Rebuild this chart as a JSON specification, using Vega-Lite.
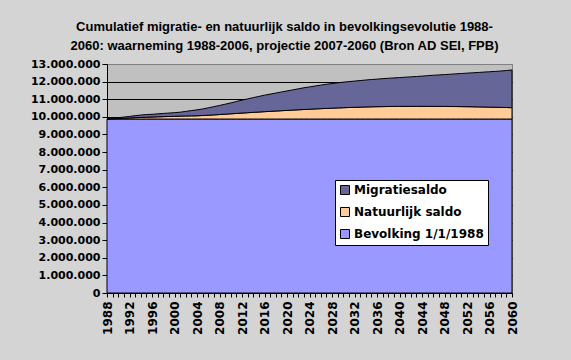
{
  "$schema": "https://vega.github.io/schema/vega-lite/v6.json",
  "width": 405,
  "height": 229,
  "autosize": {"type": "none"},
  "padding": {"left": 107, "top": 64, "right": 59, "bottom": 67},
  "background": "#D4D4D4",
  "title": {
    "text": ["Cumulatief migratie- en natuurlijk saldo in bevolkingsevolutie 1988-", "2060: waarneming 1988-2006, projectie 2007-2060 (Bron AD SEI, FPB)"],
    "font": "Liberation Sans",
    "fontSize": 13,
    "fontWeight": "bold",
    "color": "black",
    "anchor": "middle",
    "frame": "group",
    "baseline": "alphabetic",
    "lineHeight": 19,
    "offset": 18,
    "dy": 23,
    "dx": -25
  },
  "config": {
    "view": {"fill": "#C0C0C0", "stroke": "#808080", "strokeWidth": 1}
  },
  "data": {
    "values": [
      {"year": 1988, "Bevolking 1/1/1988": 9876000, "Natuurlijk saldo": 0, "Migratiesaldo": 0},
      {"year": 1989, "Bevolking 1/1/1988": 9876000, "Natuurlijk saldo": 13000, "Migratiesaldo": 39000},
      {"year": 1990, "Bevolking 1/1/1988": 9876000, "Natuurlijk saldo": 26000, "Migratiesaldo": 46000},
      {"year": 1991, "Bevolking 1/1/1988": 9876000, "Natuurlijk saldo": 42000, "Migratiesaldo": 69000},
      {"year": 1992, "Bevolking 1/1/1988": 9876000, "Natuurlijk saldo": 60000, "Migratiesaldo": 86000},
      {"year": 1993, "Bevolking 1/1/1988": 9876000, "Natuurlijk saldo": 77000, "Migratiesaldo": 115000},
      {"year": 1994, "Bevolking 1/1/1988": 9876000, "Natuurlijk saldo": 89000, "Migratiesaldo": 136000},
      {"year": 1995, "Bevolking 1/1/1988": 9876000, "Natuurlijk saldo": 101000, "Migratiesaldo": 154000},
      {"year": 1996, "Bevolking 1/1/1988": 9876000, "Natuurlijk saldo": 112000, "Migratiesaldo": 155000},
      {"year": 1997, "Bevolking 1/1/1988": 9876000, "Natuurlijk saldo": 124000, "Migratiesaldo": 170000},
      {"year": 1998, "Bevolking 1/1/1988": 9876000, "Natuurlijk saldo": 135000, "Migratiesaldo": 181000},
      {"year": 1999, "Bevolking 1/1/1988": 9876000, "Natuurlijk saldo": 145000, "Migratiesaldo": 193000},
      {"year": 2000, "Bevolking 1/1/1988": 9876000, "Natuurlijk saldo": 155000, "Migratiesaldo": 208000},
      {"year": 2001, "Bevolking 1/1/1988": 9876000, "Natuurlijk saldo": 165000, "Migratiesaldo": 222000},
      {"year": 2002, "Bevolking 1/1/1988": 9876000, "Natuurlijk saldo": 174000, "Migratiesaldo": 260000},
      {"year": 2003, "Bevolking 1/1/1988": 9876000, "Natuurlijk saldo": 180000, "Migratiesaldo": 300000},
      {"year": 2004, "Bevolking 1/1/1988": 9876000, "Natuurlijk saldo": 184000, "Migratiesaldo": 336000},
      {"year": 2005, "Bevolking 1/1/1988": 9876000, "Natuurlijk saldo": 199000, "Migratiesaldo": 371000},
      {"year": 2006, "Bevolking 1/1/1988": 9876000, "Natuurlijk saldo": 217000, "Migratiesaldo": 418000},
      {"year": 2007, "Bevolking 1/1/1988": 9876000, "Natuurlijk saldo": 235000, "Migratiesaldo": 469000},
      {"year": 2008, "Bevolking 1/1/1988": 9876000, "Natuurlijk saldo": 255000, "Migratiesaldo": 515000},
      {"year": 2009, "Bevolking 1/1/1988": 9876000, "Natuurlijk saldo": 276000, "Migratiesaldo": 566000},
      {"year": 2010, "Bevolking 1/1/1988": 9876000, "Natuurlijk saldo": 297000, "Migratiesaldo": 617000},
      {"year": 2011, "Bevolking 1/1/1988": 9876000, "Natuurlijk saldo": 318000, "Migratiesaldo": 676000},
      {"year": 2012, "Bevolking 1/1/1988": 9876000, "Natuurlijk saldo": 339000, "Migratiesaldo": 735000},
      {"year": 2013, "Bevolking 1/1/1988": 9876000, "Natuurlijk saldo": 359000, "Migratiesaldo": 785000},
      {"year": 2014, "Bevolking 1/1/1988": 9876000, "Natuurlijk saldo": 379000, "Migratiesaldo": 835000},
      {"year": 2015, "Bevolking 1/1/1988": 9876000, "Natuurlijk saldo": 398000, "Migratiesaldo": 886000},
      {"year": 2016, "Bevolking 1/1/1988": 9876000, "Natuurlijk saldo": 417000, "Migratiesaldo": 937000},
      {"year": 2017, "Bevolking 1/1/1988": 9876000, "Natuurlijk saldo": 436000, "Migratiesaldo": 978000},
      {"year": 2018, "Bevolking 1/1/1988": 9876000, "Natuurlijk saldo": 454000, "Migratiesaldo": 1020000},
      {"year": 2019, "Bevolking 1/1/1988": 9876000, "Natuurlijk saldo": 472000, "Migratiesaldo": 1062000},
      {"year": 2020, "Bevolking 1/1/1988": 9876000, "Natuurlijk saldo": 490000, "Migratiesaldo": 1104000},
      {"year": 2021, "Bevolking 1/1/1988": 9876000, "Natuurlijk saldo": 507000, "Migratiesaldo": 1147000},
      {"year": 2022, "Bevolking 1/1/1988": 9876000, "Natuurlijk saldo": 524000, "Migratiesaldo": 1190000},
      {"year": 2023, "Bevolking 1/1/1988": 9876000, "Natuurlijk saldo": 541000, "Migratiesaldo": 1233000},
      {"year": 2024, "Bevolking 1/1/1988": 9876000, "Natuurlijk saldo": 557000, "Migratiesaldo": 1267000},
      {"year": 2025, "Bevolking 1/1/1988": 9876000, "Natuurlijk saldo": 573000, "Migratiesaldo": 1301000},
      {"year": 2026, "Bevolking 1/1/1988": 9876000, "Natuurlijk saldo": 588000, "Migratiesaldo": 1336000},
      {"year": 2027, "Bevolking 1/1/1988": 9876000, "Natuurlijk saldo": 603000, "Migratiesaldo": 1371000},
      {"year": 2028, "Bevolking 1/1/1988": 9876000, "Natuurlijk saldo": 617000, "Migratiesaldo": 1397000},
      {"year": 2029, "Bevolking 1/1/1988": 9876000, "Natuurlijk saldo": 630000, "Migratiesaldo": 1424000},
      {"year": 2030, "Bevolking 1/1/1988": 9876000, "Natuurlijk saldo": 643000, "Migratiesaldo": 1451000},
      {"year": 2031, "Bevolking 1/1/1988": 9876000, "Natuurlijk saldo": 655000, "Migratiesaldo": 1469000},
      {"year": 2032, "Bevolking 1/1/1988": 9876000, "Natuurlijk saldo": 666000, "Migratiesaldo": 1488000},
      {"year": 2033, "Bevolking 1/1/1988": 9876000, "Natuurlijk saldo": 676000, "Migratiesaldo": 1508000},
      {"year": 2034, "Bevolking 1/1/1988": 9876000, "Natuurlijk saldo": 685000, "Migratiesaldo": 1529000},
      {"year": 2035, "Bevolking 1/1/1988": 9876000, "Natuurlijk saldo": 693000, "Migratiesaldo": 1551000},
      {"year": 2036, "Bevolking 1/1/1988": 9876000, "Natuurlijk saldo": 700000, "Migratiesaldo": 1564000},
      {"year": 2037, "Bevolking 1/1/1988": 9876000, "Natuurlijk saldo": 706000, "Migratiesaldo": 1588000},
      {"year": 2038, "Bevolking 1/1/1988": 9876000, "Natuurlijk saldo": 711000, "Migratiesaldo": 1603000},
      {"year": 2039, "Bevolking 1/1/1988": 9876000, "Natuurlijk saldo": 715000, "Migratiesaldo": 1619000},
      {"year": 2040, "Bevolking 1/1/1988": 9876000, "Natuurlijk saldo": 718000, "Migratiesaldo": 1636000},
      {"year": 2041, "Bevolking 1/1/1988": 9876000, "Natuurlijk saldo": 720000, "Migratiesaldo": 1654000},
      {"year": 2042, "Bevolking 1/1/1988": 9876000, "Natuurlijk saldo": 721000, "Migratiesaldo": 1673000},
      {"year": 2043, "Bevolking 1/1/1988": 9876000, "Natuurlijk saldo": 722000, "Migratiesaldo": 1692000},
      {"year": 2044, "Bevolking 1/1/1988": 9876000, "Natuurlijk saldo": 722000, "Migratiesaldo": 1712000},
      {"year": 2045, "Bevolking 1/1/1988": 9876000, "Natuurlijk saldo": 721000, "Migratiesaldo": 1743000},
      {"year": 2046, "Bevolking 1/1/1988": 9876000, "Natuurlijk saldo": 720000, "Migratiesaldo": 1764000},
      {"year": 2047, "Bevolking 1/1/1988": 9876000, "Natuurlijk saldo": 718000, "Migratiesaldo": 1786000},
      {"year": 2048, "Bevolking 1/1/1988": 9876000, "Natuurlijk saldo": 716000, "Migratiesaldo": 1808000},
      {"year": 2049, "Bevolking 1/1/1988": 9876000, "Natuurlijk saldo": 713000, "Migratiesaldo": 1831000},
      {"year": 2050, "Bevolking 1/1/1988": 9876000, "Natuurlijk saldo": 709000, "Migratiesaldo": 1855000},
      {"year": 2051, "Bevolking 1/1/1988": 9876000, "Natuurlijk saldo": 705000, "Migratiesaldo": 1879000},
      {"year": 2052, "Bevolking 1/1/1988": 9876000, "Natuurlijk saldo": 700000, "Migratiesaldo": 1904000},
      {"year": 2053, "Bevolking 1/1/1988": 9876000, "Natuurlijk saldo": 695000, "Migratiesaldo": 1929000},
      {"year": 2054, "Bevolking 1/1/1988": 9876000, "Natuurlijk saldo": 689000, "Migratiesaldo": 1955000},
      {"year": 2055, "Bevolking 1/1/1988": 9876000, "Natuurlijk saldo": 683000, "Migratiesaldo": 1981000},
      {"year": 2056, "Bevolking 1/1/1988": 9876000, "Natuurlijk saldo": 676000, "Migratiesaldo": 2008000},
      {"year": 2057, "Bevolking 1/1/1988": 9876000, "Natuurlijk saldo": 669000, "Migratiesaldo": 2035000},
      {"year": 2058, "Bevolking 1/1/1988": 9876000, "Natuurlijk saldo": 661000, "Migratiesaldo": 2063000},
      {"year": 2059, "Bevolking 1/1/1988": 9876000, "Natuurlijk saldo": 653000, "Migratiesaldo": 2101000},
      {"year": 2060, "Bevolking 1/1/1988": 9876000, "Natuurlijk saldo": 645000, "Migratiesaldo": 2139000}
    ]
  },
  "transform": [
    {"fold": ["Bevolking 1/1/1988", "Natuurlijk saldo", "Migratiesaldo"], "as": ["reeks", "waarde"]},
    {"calculate": "datum.reeks == 'Bevolking 1/1/1988' ? 0 : (datum.reeks == 'Natuurlijk saldo' ? 1 : 2)", "as": "volgorde"}
  ],
  "mark": {"type": "area", "stroke": "black", "strokeWidth": 1, "opacity": 1},
  "encoding": {
    "x": {
      "field": "year",
      "type": "ordinal",
      "scale": {"type": "point", "padding": 0},
      "axis": {
        "title": null,
        "labelAngle": -90,
        "labelExpr": "(datum.value - 1988) % 4 == 0 ? datum.value : ''",
        "labelOverlap": false,
        "labelFont": "DejaVu Sans",
        "labelFontSize": 12,
        "labelFontWeight": "bold",
        "labelColor": "black",
        "labelPadding": 4,
        "tickColor": "black",
        "tickSize": 4,
        "domainColor": "black",
        "grid": false
      }
    },
    "y": {
      "field": "waarde",
      "type": "quantitative",
      "stack": "zero",
      "scale": {"domain": [0, 13000000], "nice": false},
      "axis": {
        "title": null,
        "values": [0, 1000000, 2000000, 3000000, 4000000, 5000000, 6000000, 7000000, 8000000, 9000000, 10000000, 11000000, 12000000, 13000000],
        "labelExpr": "replace(format(datum.value, ',d'), /,/g, '.')",
        "labelFont": "DejaVu Sans",
        "labelFontSize": 11,
        "labelFontWeight": "bold",
        "labelColor": "black",
        "labelPadding": 2,
        "tickColor": "black",
        "tickSize": 5,
        "domainColor": "black",
        "grid": true,
        "gridColor": {"condition": {"test": "datum.value == 13000000", "value": "#808080"}, "value": "black"},
        "gridOpacity": 1
      }
    },
    "order": {"field": "volgorde", "type": "quantitative", "sort": "ascending"},
    "color": {
      "field": "reeks",
      "type": "nominal",
      "scale": {
        "domain": ["Migratiesaldo", "Natuurlijk saldo", "Bevolking 1/1/1988"],
        "range": ["#666699", "#FFCC99", "#9999FF"]
      },
      "legend": {
        "title": null,
        "orient": "none",
        "legendX": 228,
        "legendY": 116,
        "fillColor": "white",
        "strokeColor": "black",
        "padding": 4,
        "cornerRadius": 0,
        "symbolType": "square",
        "symbolSize": 81,
        "symbolStrokeColor": "black",
        "symbolStrokeWidth": 1,
        "symbolOpacity": 1,
        "labelFont": "DejaVu Sans",
        "labelFontSize": 12,
        "labelFontWeight": "bold",
        "labelColor": "black",
        "labelLimit": 300,
        "labelOffset": 3,
        "rowPadding": 8
      }
    }
  }
}
